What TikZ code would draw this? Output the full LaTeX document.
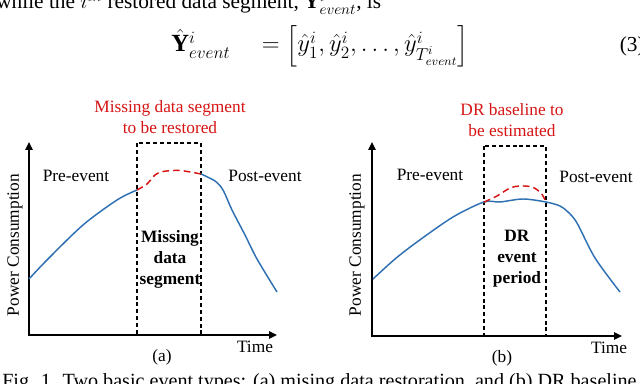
\documentclass[tikz,border=0pt]{standalone}
\usepackage{fix-cm}
\usepackage{amsmath}
\usepackage{fontspec}
\setmainfont{Liberation Serif}
\usetikzlibrary{arrows.meta}
\definecolor{loadblue}{RGB}{46,112,178}
\definecolor{guessred}{RGB}{214,20,20}

\begin{document}
\begin{tikzpicture}[x=0.75pt, y=-0.75pt, >={Triangle[length=6pt,width=5.5pt]},
  axis/.style={line width=1.1pt, <->},
  evbox/.style={draw, line width=0.8pt, dash pattern=on 3pt off 2.2pt},
  load/.style={loadblue, line width=1.1pt},
  guess/.style={guessred, line width=1.1pt, dash pattern=on 5pt off 3pt},
  lbl/.style={font=\fontsize{13}{15.75}\selectfont},
  redlbl/.style={lbl, text=guessred, align=center},
  inlbl/.style={font=\fontsize{13}{15.75}\selectfont\bfseries, align=center},
  txt/.style={font=\fontsize{16}{19}\selectfont, inner sep=0pt}]
  \useasboundingbox (0,0) rectangle (640,384);

  % text of the page round the figure
  \node[txt, anchor=base west] (intro) at (-4,9)
    {while the $i^{th}$ restored data segment, $\hat{\mathbf{Y}}^{i}_{event}$, is};
  \node[txt, font=\fontsize{18.5}{22}\selectfont, anchor=base] (eqn) at (320,52)
    {$\hat{\mathbf{Y}}^{i}_{event}\quad=\left[\hat{y}^{i}_{1},\hat{y}^{i}_{2},\dots,\hat{y}^{i}_{T^{i}_{event}}\right]$};
  \node[txt, anchor=base east] (eqno) at (645,52) {(3)};
  \node[txt, font=\fontsize{15.1}{18}\selectfont, anchor=base west] (cap) at (2,388)
    {Fig. 1. Two basic event types: (a) mising data restoration, and (b) DR baseline};

  % (a) missing data restoration
  \coordinate (a-y) at (29,142);
  \coordinate (a-x) at (277,335);
  \draw[evbox] (137,143) rectangle (201,335);
  \draw[axis] (a-y) |- (a-x);
  \draw[load] plot[smooth] coordinates {(29,279) (47,260) (83,225) (117,200) (137,190)};
  \draw[guess] plot[smooth] coordinates {(137,190) (147,184) (155,175) (163,171.5) (180,170.5) (201,174)};
  \draw[load] plot[smooth] coordinates {(201,174) (215,181) (223,190) (232,210) (245,235) (257,259) (277,292)};
  \node[lbl] (a-pre) at (76,176) {Pre-event};
  \node[lbl] (a-post) at (265,176) {Post-event};
  \node[redlbl] (a-task) at (170,117) {Missing data segment\\to be restored};
  \node[inlbl] (a-seg) at (170,259) {Missing\\data\\segment};
  \node[lbl, rotate=90] (a-ylab) at (15,245) {Power Consumption};
  \node[lbl] (a-xlab) at (255,347) {Time};
  \node[lbl] (a-tag) at (162,357) {(a)};

  % (b) DR baseline estimation
  \coordinate (b-y) at (372,142);
  \coordinate (b-x) at (622,336);
  \draw[evbox, line width=1pt] (484,146) rectangle (546,336);
  \draw[axis] (b-y) |- (b-x);
  \draw[load] plot[smooth] coordinates {(373,279) (395,259) (417,242) (453,217) (484,202) (500,202)
    (523,199) (546,202) (560,206) (568,212) (577,223) (595,258) (620,292)};
  \draw[guess] plot[smooth] coordinates {(484,202) (497,196) (510,188) (520,186) (532,187) (541,193) (546,202)};
  \node[lbl] (b-pre) at (430,175) {Pre-event};
  \node[lbl] (b-post) at (596,177) {Post-event};
  \node[redlbl] (b-task) at (512,120) {DR baseline to\\be estimated};
  \node[inlbl] (b-seg) at (517,259) {DR\\event\\period};
  \node[lbl, rotate=90] (b-ylab) at (357,245) {Power Consumption};
  \node[lbl] (b-xlab) at (609,348) {Time};
  \node[lbl] (b-tag) at (502,358) {(b)};
\end{tikzpicture}
\end{document}
